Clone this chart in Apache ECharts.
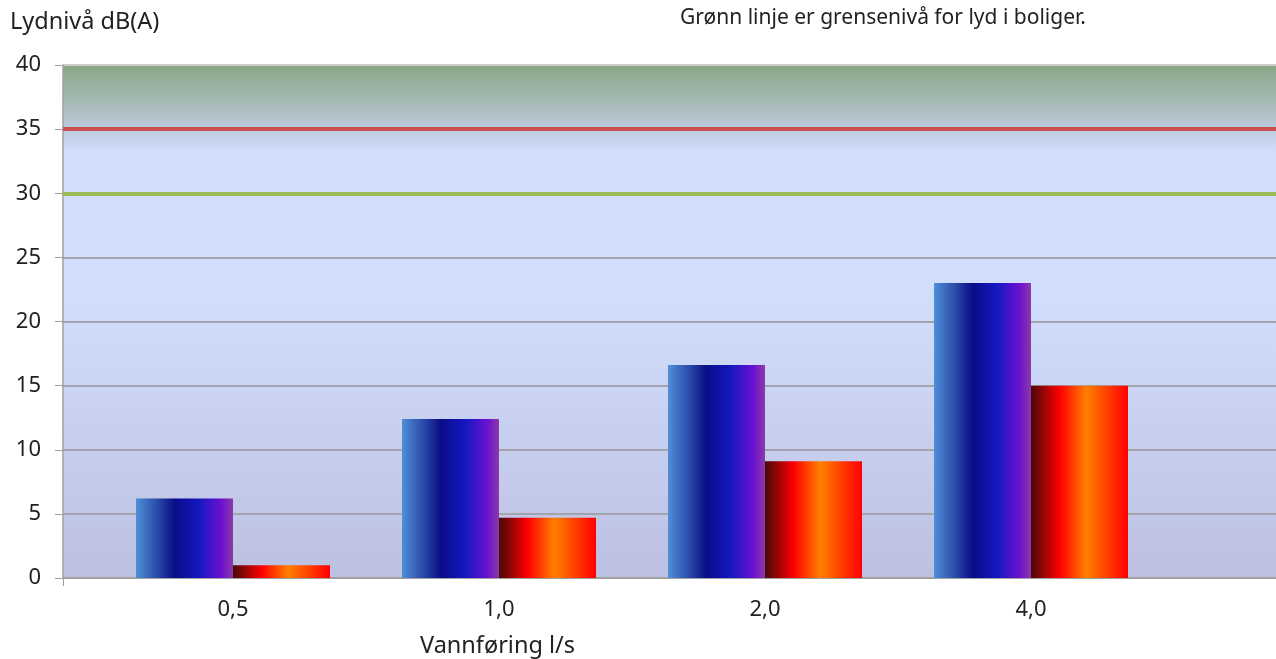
<!DOCTYPE html>
<html><head><meta charset="utf-8">
<script src="https://cdn.jsdelivr.net/npm/echarts@6/dist/echarts.min.js"></script>
<style>html,body{margin:0;padding:0;background:#fff}#c{width:1276px;height:659px}</style>
</head><body><div id="c"></div>
<script>
const categories = ['0,5', '1,0', '2,0', '4,0'];
const blueValues = [6.2, 12.4, 16.6, 23.0];
const redValues = [1.0, 4.7, 9.1, 15.0];
const yTicks = [0, 5, 10, 15, 20, 25, 30, 35, 40];
const limitRed = 35;
const limitGreen = 30;

const chart = echarts.init(document.getElementById('c'));
const font = 'Noto Sans';
const LG = echarts.graphic.LinearGradient;
const bgGrad = new LG(0, 0, 0, 1, [
  {offset: 0, color: '#8aa585'},
  {offset: 0.125, color: '#bccadc'},
  {offset: 0.17, color: '#d2defd'},
  {offset: 0.45, color: '#d2defd'},
  {offset: 1, color: '#bcc0e1'}
]);
const blueGrad = new LG(0, 0, 1, 0, [
  {offset: 0, color: '#4f8fd8'},
  {offset: 0.22, color: '#2a4aa8'},
  {offset: 0.4, color: '#0a0c88'},
  {offset: 0.65, color: '#1418c0'},
  {offset: 0.88, color: '#6a10d0'},
  {offset: 1, color: '#8c3aa8'}
]);
const redGrad = new LG(0, 0, 1, 0, [
  {offset: 0, color: '#4a0808'},
  {offset: 0.3, color: '#ff0000'},
  {offset: 0.57, color: '#ff8000'},
  {offset: 0.8, color: '#ff3a00'},
  {offset: 1, color: '#ff0000'}
]);

const splitColors = yTicks.map((v, i) => i === yTicks.length - 1 ? '#cccccc' : '#a4a4ac');

chart.setOption({
  animation: false,
  textStyle: {fontFamily: font},
  graphic: [
    {type: 'text', left: 10, top: 10, style: {text: 'Lydnivå dB(A)', fontFamily: font, fontSize: 23.5, fill: '#222'}},
    {type: 'text', left: 680, top: 8, style: {text: 'Grønn linje er grensenivå for lyd i boliger.', fontFamily: font, fontSize: 21, fill: '#222'}},
    {type: 'text', left: 420, top: 634, style: {text: 'Vannføring l/s', fontFamily: font, fontSize: 23.5, fill: '#222'}}
  ],
  grid: [
    {left: 63, top: 65, right: 0, height: 513, show: true, backgroundColor: bgGrad, borderWidth: 0},
    {left: 100, top: 65, width: 1064, height: 513}
  ],
  xAxis: [
    {gridIndex: 0, type: 'category', data: [''], axisLine: {lineStyle: {color: '#a0a0a0', width: 2}},
     axisTick: {show: true, length: 8, lineStyle: {color: '#a0a0a0'}}, axisLabel: {show: false}},
    {gridIndex: 1, type: 'category', data: categories, axisLine: {show: false}, axisTick: {show: false},
     axisLabel: {fontSize: 22, color: '#222', margin: 21, fontFamily: font}}
  ],
  yAxis: [
    {gridIndex: 0, type: 'value', min: 0, max: 40, interval: 5,
     axisLine: {show: true, lineStyle: {color: '#a0a0a0', width: 1.5}},
     axisTick: {show: true, length: 8, lineStyle: {color: '#a0a0a0'}},
     axisLabel: {fontSize: 22, color: '#222', margin: 22, fontFamily: font},
     splitLine: {show: true, lineStyle: {color: splitColors, width: 2}}},
    {gridIndex: 1, type: 'value', min: 0, max: 40, interval: 5, show: false, splitLine: {show: false}}
  ],
  series: [
    {type: 'line', xAxisIndex: 0, yAxisIndex: 0, data: [0], showSymbol: false, lineStyle: {opacity: 0}, silent: true,
     markLine: {silent: true, symbol: 'none', label: {show: false},
       data: [
         {yAxis: limitRed, lineStyle: {color: '#c8504d', width: 4, type: 'solid'}},
         {yAxis: limitGreen, lineStyle: {color: '#9bbb59', width: 4, type: 'solid'}}
       ]}},
    {type: 'bar', xAxisIndex: 1, yAxisIndex: 1, data: blueValues, barWidth: 97, barGap: '0%', itemStyle: {color: blueGrad}},
    {type: 'bar', xAxisIndex: 1, yAxisIndex: 1, data: redValues, barWidth: 97, barGap: '0%', itemStyle: {color: redGrad}}
  ]
});
</script></body></html>
